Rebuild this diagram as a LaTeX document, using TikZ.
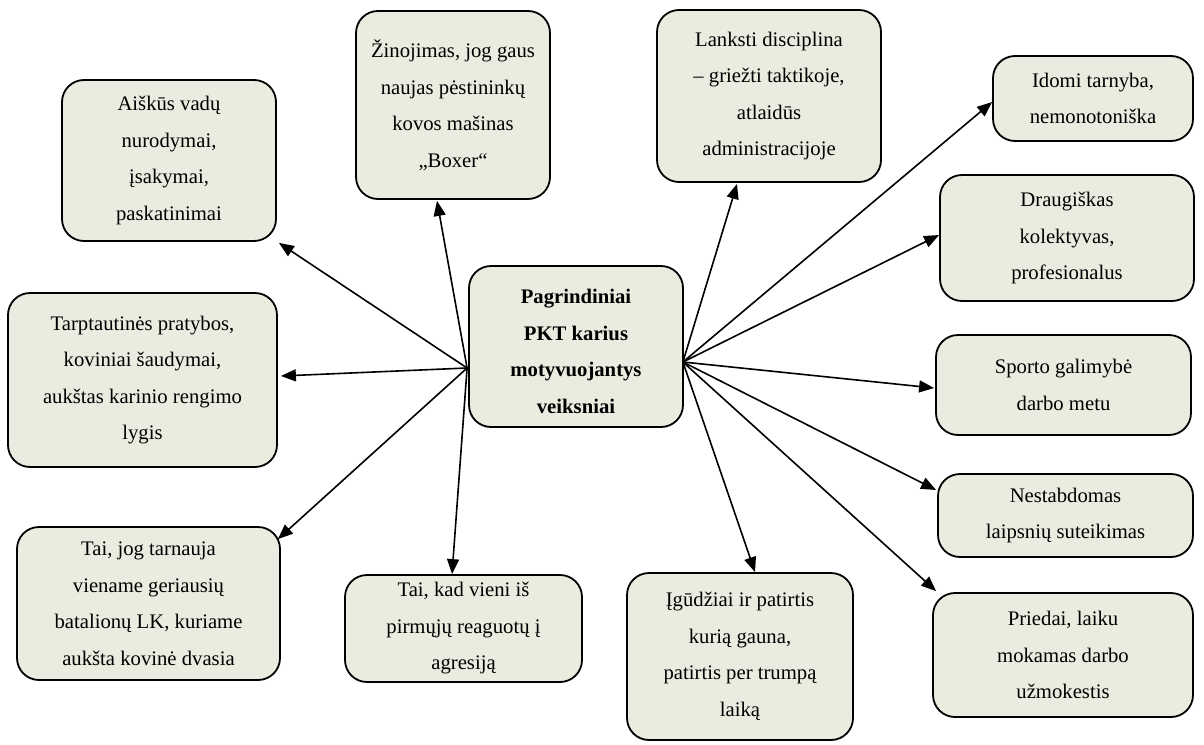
\documentclass[tikz,border=0pt]{standalone}
\usepackage{fontspec}
\setmainfont{Liberation Serif}
\usetikzlibrary{arrows.meta,calc}
\definecolor{boxfill}{RGB}{236,235,224}
\begin{document}
\begin{tikzpicture}[x=1pt,y=-1pt,
  card/.style={draw=black, line width=1.8pt, fill=boxfill, rounded corners=22pt,
    align=center, inner sep=0pt, font=\fontsize{20.7}{36.5}\selectfont},
  cardtext/.style={align=center, inner sep=0pt, font=\fontsize{20.7}{36.5}\selectfont\bfseries},
  link/.style={line width=1.6pt, -{Triangle[length=15pt,width=12pt]}}]
\useasboundingbox (0,0) rectangle (1204,744);

% central node, its text set a little below the middle
\node[card, minimum width=214pt, minimum height=161pt] (c) at (576,346.5) {};
\node[cardtext] (ct) at ($(c.center)+(0,5)$)
  {Pagrindiniai\\PKT karius\\motyvuojantys\\veiksniai};

% surrounding factors
\node[card, minimum width=214pt, minimum height=161pt] (a) at (169,160.5)
  {Aiškūs vadų\\nurodymai,\\įsakymai,\\paskatinimai};
\node[card, minimum width=194pt, minimum height=188pt] (b) at (453,105)
  {Žinojimas, jog gaus\\naujas pėstininkų\\kovos mašinas\\„Boxer“};
\node[card, minimum width=224pt, minimum height=172pt] (d) at (769,96)
  {Lanksti disciplina\\– griežti taktikoje,\\atlaidūs\\administracijoje};
\node[card, minimum width=200pt, minimum height=85pt] (e) at (1093,98.5)
  {Idomi tarnyba,\\nemonotoniška};
\node[card, minimum width=254pt, minimum height=126pt] (f) at (1067,238)
  {Draugiškas\\kolektyvas,\\profesionalus};
\node[card, minimum width=255pt, minimum height=100pt] (g) at (1063.5,385)
  {Sporto galimybė\\darbo metu};
\node[card, minimum width=255pt, minimum height=83pt] (h) at (1065.5,515.5)
  {Nestabdomas\\laipsnių suteikimas};
\node[card, minimum width=260pt, minimum height=124pt] (i) at (1063,655)
  {Priedai, laiku\\mokamas darbo\\užmokestis};
\node[card, minimum width=226pt, minimum height=167pt] (j) at (740,656.5)
  {Įgūdžiai ir patirtis\\kurią gauna,\\patirtis per trumpą\\laiką};
\node[card, minimum width=237pt, minimum height=107pt] (k) at (463.5,628.5)
  {Tai, kad vieni iš\\pirmųjų reaguotų į\\agresiją};
\node[card, minimum width=263pt, minimum height=153pt] (l) at (148.5,603.5)
  {Tai, jog tarnauja\\viename geriausių\\batalionų LK, kuriame\\aukšta kovinė dvasia};
\node[card, minimum width=269pt, minimum height=174pt] (m) at (142.5,380)
  {Tarptautinės pratybos,\\koviniai šaudymai,\\aukštas karinio rengimo\\lygis};

% arrow origins on the central node
\coordinate (cl) at ($(c.west)+(-1,21.5)$);
\coordinate (cr) at ($(c.east)+(-1,15.5)$);

\draw[link] (cl) -- ($(a.south east)+(2,1)$);
\draw[link] (cl) -- ($(b.south)+(-16,1)$);
\draw[link] (cl) -- ($(m.east)+(3,-4)$);
\draw[link] (cl) -- ($(l.north east)+(-3,13)$);
\draw[link] (cl) -- ($(k.north)+(-11.5,0)$);

\draw[link] (cr) -- ($(d.south)+(-32,1)$);
\draw[link] (cr) -- ($(e.west)+(0,3.5)$);
\draw[link] (cr) -- ($(f.west)+(0,-3)$);
\draw[link] (cr) -- ($(g.west)+(-1,3)$);
\draw[link] (cr) -- ($(h.west)+(-1,-25.5)$);
\draw[link] (cr) -- ($(i.north west)+(4,-1)$);
\draw[link] (cr) -- ($(j.north)+(15,0)$);
\end{tikzpicture}
\end{document}
